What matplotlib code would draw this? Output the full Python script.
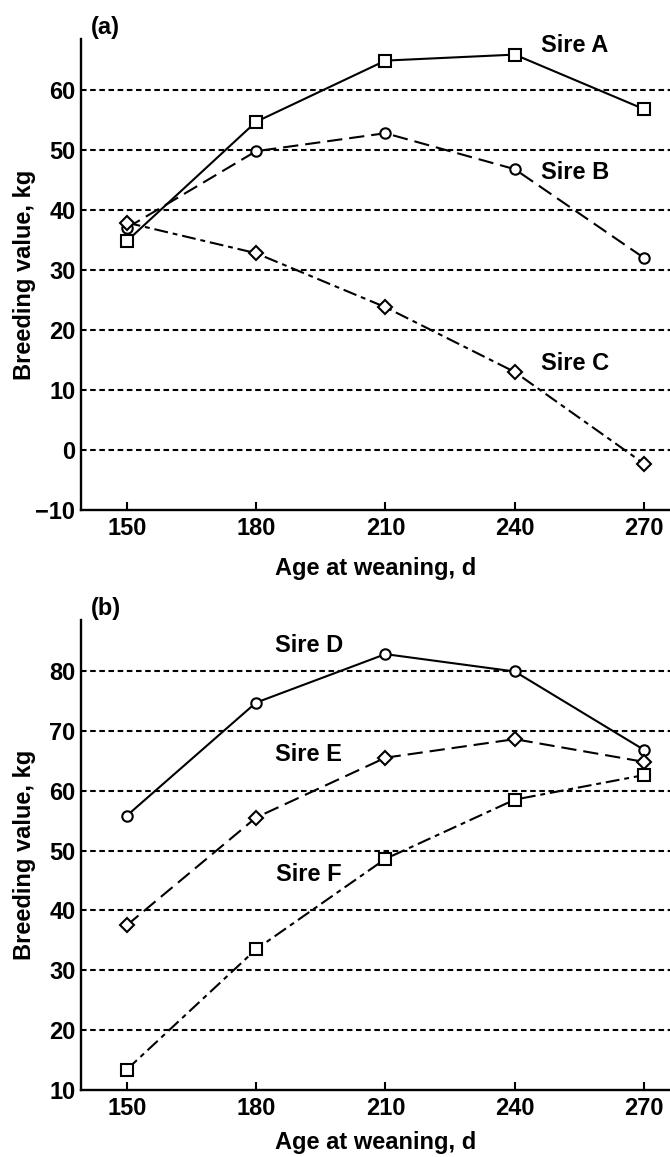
import matplotlib
matplotlib.use("Agg")
import matplotlib.pyplot as plt

plt.rcParams['font.family'] = ['Liberation Sans', 'DejaVu Sans']
plt.rcParams['font.weight'] = 'bold'
plt.rcParams['lines.scale_dashes'] = False

ages = [150, 180, 210, 240, 270]
xticks = [150, 180, 210, 240, 270]

sire_a = [34.8, 54.7, 64.9, 65.9, 56.8]
sire_b = [37.0, 49.8, 52.8, 46.8, 32.0]
sire_c = [37.9, 32.8, 23.8, 13.0, -2.3]

sire_d = [55.8, 74.7, 82.8, 79.9, 66.8]
sire_e = [37.5, 55.5, 65.5, 68.6, 64.8]
sire_f = [13.4, 33.5, 48.6, 58.5, 62.6]

yticks_a = [-10, 0, 10, 20, 30, 40, 50, 60]
yticks_b = [10, 20, 30, 40, 50, 60, 70, 80]

FS = 17
W, H = 670, 1157
fig = plt.figure(figsize=(W/100, H/100), dpi=100)

solid = '-'
dashed = (0, (11, 5))
dashdot = (0, (10, 3.5, 3.5, 3.5))

def setup(ax, ylim, yticks, tag, xpad):
    ax.set_xlim(139.4, 276)
    ax.set_ylim(*ylim)
    ax.set_xticks(xticks)
    ax.set_yticks(yticks)
    ax.set_yticklabels([str(v).replace('-', '\u2212') for v in yticks])
    for s in ['top', 'right']:
        ax.spines[s].set_visible(False)
    for s in ['left', 'bottom']:
        ax.spines[s].set_linewidth(1.7)
    ax.tick_params(axis='x', direction='in', length=6, width=1.5, labelsize=FS, pad=5)
    ax.tick_params(axis='y', length=0, labelsize=FS, pad=4)
    for v in yticks[1:]:
        ax.axhline(v, color='black', lw=1.5, ls=(0, (4, 2.6)), zorder=1)
    ax.set_xlabel('Age at weaning, d', fontsize=FS, fontweight='bold', labelpad=xpad)
    ax.set_ylabel('Breeding value, kg', fontsize=FS, fontweight='bold')
    ax.yaxis.set_label_coords(-0.076, 0.5)
    ax.text(0.017, 1.0, tag, transform=ax.transAxes, fontsize=FS, fontweight='bold',
            ha='left', va='bottom')

def series(ax, y, ls, marker, ms):
    ax.plot(ages, y, color='black', lw=1.5, ls=ls, marker=marker, ms=ms,
            mfc='white', mec='black', mew=1.5, zorder=3, clip_on=False)

axa = fig.add_axes([81/W, 1-510/H, 1-81/W, (510-39)/H])
setup(axa, (-10, 68.5), yticks_a, '(a)', 12)
series(axa, sire_a, solid, 's', 8)
series(axa, sire_b, dashed, 'o', 7.5)
series(axa, sire_c, dashdot, 'D', 7)
lab = dict(fontsize=FS, fontweight='bold', ha='center', va='center')
axa.text(253.9, 67.5, 'Sire A', **lab)
axa.text(253.9, 46.2, 'Sire B', **lab)
axa.text(253.9, 14.5, 'Sire C', **lab)

axb = fig.add_axes([81/W, 1-1090/H, 1-81/W, (1090-620)/H])
setup(axb, (10, 88.5), yticks_b, '(b)', 8)
series(axb, sire_d, solid, 'o', 7.5)
series(axb, sire_e, dashed, 'D', 7)
series(axb, sire_f, dashdot, 's', 8)
axb.text(192.2, 84.3, 'Sire D', **lab)
axb.text(192.2, 66.0, 'Sire E', **lab)
axb.text(192.2, 46.0, 'Sire F', **lab)

fig.savefig('out.png', dpi=100)
